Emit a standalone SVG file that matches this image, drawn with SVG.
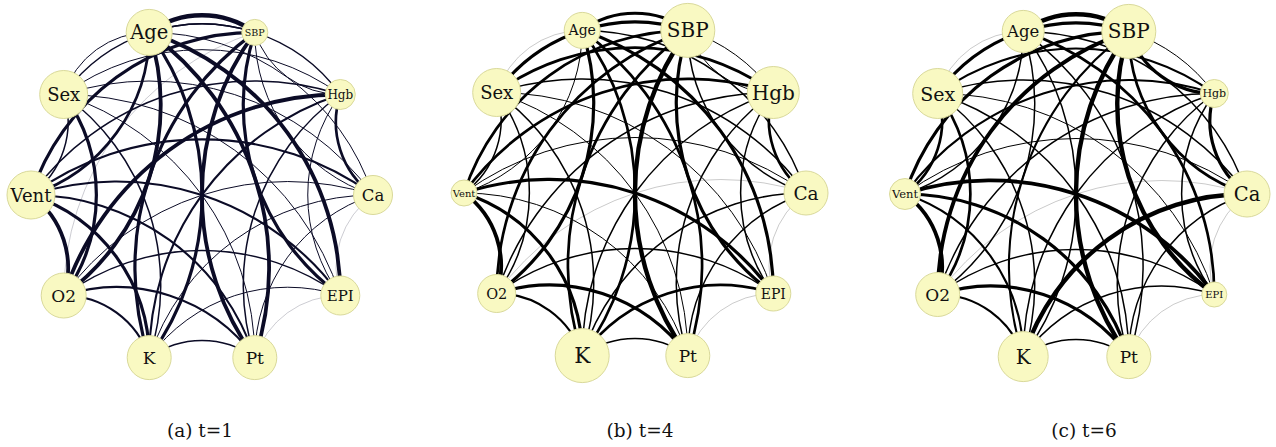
<svg xmlns="http://www.w3.org/2000/svg" width="1276" height="447" viewBox="0 0 1276 447">
<style>
.bg{fill:#ffffff}
.edges path{fill:none;stroke-linecap:round}
#pa .edges path{stroke:#0b0b26}
#pb .edges path,#pc .edges path{stroke:#000}
.a{stroke-width:0.6;stroke-opacity:0.35}
.b{stroke-width:1}
.c{stroke-width:1.5}
.d{stroke-width:2.1}
.e{stroke-width:2.7}
.f{stroke-width:3.2}
.g{stroke-width:3.8}
.h{stroke-width:4.4}
.node circle{fill:#f9f9c2;stroke:#d9d99a;stroke-width:1}
.node text{font-family:"DejaVu Serif","Liberation Serif",serif;fill:#111;text-anchor:middle;dominant-baseline:central}
.cap{font-family:"DejaVu Serif","Liberation Serif",serif;font-size:18.5px;fill:#111;text-anchor:middle}
</style>
<rect class="bg" x="0" y="0" width="1276" height="447"/>

<g id="pa" transform="translate(202,195)">
<g class="edges" id="pa-edges">
<path class="b" d="M-138.3,-100.5A89.8,89.8 0 0 1-52.8,-162.6"/>
<path class="e" d="M-52.8,-162.6A170.9,170.9 0 0 1-171,0"/>
<path class="g" d="M-52.8,-162.6A235.2,235.2 0 0 1-138.3,100.5"/>
<path class="f" d="M-52.8,-162.6A276.5,276.5 0 0 1-52.8,162.6"/>
<path class="g" d="M-52.8,-162.6A290.7,290.7 0 0 1 52.8,162.6"/>
<path class="g" d="M-52.8,-162.6A276.5,276.5 0 0 1 138.3,100.5"/>
<path class="b" d="M-52.8,-162.6A235.2,235.2 0 0 1 171,0"/>
<path class="c" d="M-52.8,-162.6A170.9,170.9 0 0 1 138.3,-100.5"/>
<path class="h" d="M-52.8,-162.6A89.8,89.8 0 0 1 52.8,-162.6"/>
<path class="c" d="M-138.3,-100.5A89.8,89.8 0 0 1-171,0"/>
<path class="f" d="M-138.3,-100.5A170.9,170.9 0 0 1-138.3,100.5"/>
<path class="c" d="M-138.3,-100.5A235.2,235.2 0 0 1-52.8,162.6"/>
<path class="b" d="M-138.3,-100.5A276.5,276.5 0 0 1 52.8,162.6"/>
<path class="b" d="M-138.3,-100.5A290.7,290.7 0 0 1 138.3,100.5"/>
<path class="b" d="M-138.3,-100.5A276.5,276.5 0 0 1 171,0"/>
<path class="b" d="M-138.3,-100.5A235.2,235.2 0 0 1 138.3,-100.5"/>
<path class="c" d="M-138.3,-100.5A170.9,170.9 0 0 1 52.8,-162.6"/>
<path class="g" d="M-171,0A89.8,89.8 0 0 1-138.3,100.5"/>
<path class="f" d="M-171,0A170.9,170.9 0 0 1-52.8,162.6"/>
<path class="d" d="M-171,0A235.2,235.2 0 0 1 52.8,162.6"/>
<path class="d" d="M-171,0A276.5,276.5 0 0 1 138.3,100.5"/>
<path class="d" d="M-171,0A290.7,290.7 0 0 1 171,0"/>
<path class="c" d="M-171,0A276.5,276.5 0 0 1 138.3,-100.5"/>
<path class="f" d="M-171,0A235.2,235.2 0 0 1 52.8,-162.6"/>
<path class="d" d="M-138.3,100.5A89.8,89.8 0 0 1-52.8,162.6"/>
<path class="d" d="M-138.3,100.5A170.9,170.9 0 0 1 52.8,162.6"/>
<path class="c" d="M-138.3,100.5A235.2,235.2 0 0 1 138.3,100.5"/>
<path class="b" d="M-138.3,100.5A276.5,276.5 0 0 1 171,0"/>
<path class="g" d="M-138.3,100.5A290.7,290.7 0 0 1 138.3,-100.5"/>
<path class="a" d="M-138.3,100.5A276.5,276.5 0 0 1 52.8,-162.6"/>
<path class="c" d="M-52.8,162.6A89.8,89.8 0 0 1 52.8,162.6"/>
<path class="b" d="M-52.8,162.6A170.9,170.9 0 0 1 138.3,100.5"/>
<path class="b" d="M-52.8,162.6A235.2,235.2 0 0 1 171,0"/>
<path class="d" d="M-52.8,162.6A276.5,276.5 0 0 1 138.3,-100.5"/>
<path class="f" d="M-52.8,162.6A290.7,290.7 0 0 1 52.8,-162.6"/>
<path class="a" d="M52.8,162.6A89.8,89.8 0 0 1 138.3,100.5"/>
<path class="b" d="M52.8,162.6A170.9,170.9 0 0 1 171,0"/>
<path class="c" d="M52.8,162.6A235.2,235.2 0 0 1 138.3,-100.5"/>
<path class="g" d="M52.8,162.6A276.5,276.5 0 0 1 52.8,-162.6"/>
<path class="a" d="M138.3,100.5A89.8,89.8 0 0 1 171,0"/>
<path class="b" d="M138.3,100.5A170.9,170.9 0 0 1 138.3,-100.5"/>
<path class="f" d="M138.3,100.5A235.2,235.2 0 0 1 52.8,-162.6"/>
<path class="e" d="M171,0A89.8,89.8 0 0 1 138.3,-100.5"/>
<path class="b" d="M171,0A170.9,170.9 0 0 1 52.8,-162.6"/>
<path class="b" d="M138.3,-100.5A89.8,89.8 0 0 1 52.8,-162.6"/>
</g>
<g class="node" id="pa-Age"><circle cx="-52.8" cy="-162.6" r="23"/><text x="-52.8" y="-162.6" font-size="19.5">Age</text></g>
<g class="node" id="pa-Sex"><circle cx="-138.3" cy="-100.5" r="24"/><text x="-138.3" y="-100.5" font-size="18">Sex</text></g>
<g class="node" id="pa-Vent"><circle cx="-171" cy="0" r="24"/><text x="-171" y="0" font-size="18">Vent</text></g>
<g class="node" id="pa-O2"><circle cx="-138.3" cy="100.5" r="22.5"/><text x="-138.3" y="100.5" font-size="17">O2</text></g>
<g class="node" id="pa-K"><circle cx="-52.8" cy="162.6" r="22"/><text x="-52.8" y="162.6" font-size="17">K</text></g>
<g class="node" id="pa-Pt"><circle cx="52.8" cy="162.6" r="22"/><text x="52.8" y="162.6" font-size="17">Pt</text></g>
<g class="node" id="pa-EPI"><circle cx="138.3" cy="100.5" r="19.5"/><text x="138.3" y="100.5" font-size="15">EPI</text></g>
<g class="node" id="pa-Ca"><circle cx="171" cy="0" r="19.5"/><text x="171" y="0" font-size="16.5">Ca</text></g>
<g class="node" id="pa-Hgb"><circle cx="138.3" cy="-100.5" r="15"/><text x="138.3" y="-100.5" font-size="12">Hgb</text></g>
<g class="node" id="pa-SBP"><circle cx="52.8" cy="-162.6" r="13"/><text x="52.8" y="-162.6" font-size="9.5">SBP</text></g>
</g>

<g id="pb" transform="translate(635,193)">
<g class="edges" id="pb-edges">
<path class="a" d="M-138.3,-100.5A89.8,89.8 0 0 1-52.8,-162.6"/>
<path class="b" d="M-52.8,-162.6A170.9,170.9 0 0 1-171,0"/>
<path class="f" d="M-52.8,-162.6A235.2,235.2 0 0 1-138.3,100.5"/>
<path class="e" d="M-52.8,-162.6A276.5,276.5 0 0 1-52.8,162.6"/>
<path class="e" d="M-52.8,-162.6A290.7,290.7 0 0 1 52.8,162.6"/>
<path class="f" d="M-52.8,-162.6A276.5,276.5 0 0 1 138.3,100.5"/>
<path class="c" d="M-52.8,-162.6A235.2,235.2 0 0 1 171,0"/>
<path class="b" d="M-52.8,-162.6A170.9,170.9 0 0 1 138.3,-100.5"/>
<path class="f" d="M-52.8,-162.6A89.8,89.8 0 0 1 52.8,-162.6"/>
<path class="c" d="M-138.3,-100.5A89.8,89.8 0 0 1-171,0"/>
<path class="c" d="M-138.3,-100.5A170.9,170.9 0 0 1-138.3,100.5"/>
<path class="c" d="M-138.3,-100.5A235.2,235.2 0 0 1-52.8,162.6"/>
<path class="b" d="M-138.3,-100.5A276.5,276.5 0 0 1 52.8,162.6"/>
<path class="b" d="M-138.3,-100.5A290.7,290.7 0 0 1 138.3,100.5"/>
<path class="c" d="M-138.3,-100.5A276.5,276.5 0 0 1 171,0"/>
<path class="e" d="M-138.3,-100.5A235.2,235.2 0 0 1 138.3,-100.5"/>
<path class="f" d="M-138.3,-100.5A170.9,170.9 0 0 1 52.8,-162.6"/>
<path class="g" d="M-171,0A89.8,89.8 0 0 1-138.3,100.5"/>
<path class="f" d="M-171,0A170.9,170.9 0 0 1-52.8,162.6"/>
<path class="b" d="M-171,0A235.2,235.2 0 0 1 52.8,162.6"/>
<path class="f" d="M-171,0A276.5,276.5 0 0 1 138.3,100.5"/>
<path class="b" d="M-171,0A290.7,290.7 0 0 1 171,0"/>
<path class="e" d="M-171,0A276.5,276.5 0 0 1 138.3,-100.5"/>
<path class="e" d="M-171,0A235.2,235.2 0 0 1 52.8,-162.6"/>
<path class="d" d="M-138.3,100.5A89.8,89.8 0 0 1-52.8,162.6"/>
<path class="f" d="M-138.3,100.5A170.9,170.9 0 0 1 52.8,162.6"/>
<path class="c" d="M-138.3,100.5A235.2,235.2 0 0 1 138.3,100.5"/>
<path class="a" d="M-138.3,100.5A276.5,276.5 0 0 1 171,0"/>
<path class="c" d="M-138.3,100.5A290.7,290.7 0 0 1 138.3,-100.5"/>
<path class="e" d="M-138.3,100.5A276.5,276.5 0 0 1 52.8,-162.6"/>
<path class="c" d="M-52.8,162.6A89.8,89.8 0 0 1 52.8,162.6"/>
<path class="e" d="M-52.8,162.6A170.9,170.9 0 0 1 138.3,100.5"/>
<path class="c" d="M-52.8,162.6A235.2,235.2 0 0 1 171,0"/>
<path class="c" d="M-52.8,162.6A276.5,276.5 0 0 1 138.3,-100.5"/>
<path class="e" d="M-52.8,162.6A290.7,290.7 0 0 1 52.8,-162.6"/>
<path class="a" d="M52.8,162.6A89.8,89.8 0 0 1 138.3,100.5"/>
<path class="c" d="M52.8,162.6A170.9,170.9 0 0 1 171,0"/>
<path class="c" d="M52.8,162.6A235.2,235.2 0 0 1 138.3,-100.5"/>
<path class="h" d="M52.8,162.6A276.5,276.5 0 0 1 52.8,-162.6"/>
<path class="a" d="M138.3,100.5A89.8,89.8 0 0 1 171,0"/>
<path class="c" d="M138.3,100.5A170.9,170.9 0 0 1 138.3,-100.5"/>
<path class="f" d="M138.3,100.5A235.2,235.2 0 0 1 52.8,-162.6"/>
<path class="e" d="M171,0A89.8,89.8 0 0 1 138.3,-100.5"/>
<path class="c" d="M171,0A170.9,170.9 0 0 1 52.8,-162.6"/>
<path class="b" d="M138.3,-100.5A89.8,89.8 0 0 1 52.8,-162.6"/>
</g>
<g class="node" id="pb-Age"><circle cx="-52.8" cy="-162.6" r="18"/><text x="-52.8" y="-162.6" font-size="14">Age</text></g>
<g class="node" id="pb-Sex"><circle cx="-138.3" cy="-100.5" r="24"/><text x="-138.3" y="-100.5" font-size="18">Sex</text></g>
<g class="node" id="pb-Vent"><circle cx="-171" cy="0" r="13"/><text x="-171" y="0" font-size="10">Vent</text></g>
<g class="node" id="pb-O2"><circle cx="-138.3" cy="100.5" r="19"/><text x="-138.3" y="100.5" font-size="14.5">O2</text></g>
<g class="node" id="pb-K"><circle cx="-52.8" cy="162.6" r="27"/><text x="-52.8" y="162.6" font-size="21.5">K</text></g>
<g class="node" id="pb-Pt"><circle cx="52.8" cy="162.6" r="22"/><text x="52.8" y="162.6" font-size="17">Pt</text></g>
<g class="node" id="pb-EPI"><circle cx="138.3" cy="100.5" r="17.5"/><text x="138.3" y="100.5" font-size="14">EPI</text></g>
<g class="node" id="pb-Ca"><circle cx="171" cy="0" r="22"/><text x="171" y="0" font-size="18.5">Ca</text></g>
<g class="node" id="pb-Hgb"><circle cx="138.3" cy="-100.5" r="26"/><text x="138.3" y="-100.5" font-size="20">Hgb</text></g>
<g class="node" id="pb-SBP"><circle cx="52.8" cy="-162.6" r="27"/><text x="52.8" y="-162.6" font-size="20">SBP</text></g>
</g>

<g id="pc" transform="translate(1076,194)">
<g class="edges" id="pc-edges">
<path class="a" d="M-138.3,-100.5A89.8,89.8 0 0 1-52.8,-162.6"/>
<path class="c" d="M-52.8,-162.6A170.9,170.9 0 0 1-171,0"/>
<path class="c" d="M-52.8,-162.6A235.2,235.2 0 0 1-138.3,100.5"/>
<path class="c" d="M-52.8,-162.6A276.5,276.5 0 0 1-52.8,162.6"/>
<path class="c" d="M-52.8,-162.6A290.7,290.7 0 0 1 52.8,162.6"/>
<path class="e" d="M-52.8,-162.6A276.5,276.5 0 0 1 138.3,100.5"/>
<path class="c" d="M-52.8,-162.6A235.2,235.2 0 0 1 171,0"/>
<path class="b" d="M-52.8,-162.6A170.9,170.9 0 0 1 138.3,-100.5"/>
<path class="h" d="M-52.8,-162.6A89.8,89.8 0 0 1 52.8,-162.6"/>
<path class="e" d="M-138.3,-100.5A89.8,89.8 0 0 1-171,0"/>
<path class="e" d="M-138.3,-100.5A170.9,170.9 0 0 1-138.3,100.5"/>
<path class="c" d="M-138.3,-100.5A235.2,235.2 0 0 1-52.8,162.6"/>
<path class="c" d="M-138.3,-100.5A276.5,276.5 0 0 1 52.8,162.6"/>
<path class="b" d="M-138.3,-100.5A290.7,290.7 0 0 1 138.3,100.5"/>
<path class="c" d="M-138.3,-100.5A276.5,276.5 0 0 1 171,0"/>
<path class="d" d="M-138.3,-100.5A235.2,235.2 0 0 1 138.3,-100.5"/>
<path class="f" d="M-138.3,-100.5A170.9,170.9 0 0 1 52.8,-162.6"/>
<path class="g" d="M-171,0A89.8,89.8 0 0 1-138.3,100.5"/>
<path class="d" d="M-171,0A170.9,170.9 0 0 1-52.8,162.6"/>
<path class="f" d="M-171,0A235.2,235.2 0 0 1 52.8,162.6"/>
<path class="g" d="M-171,0A276.5,276.5 0 0 1 138.3,100.5"/>
<path class="b" d="M-171,0A290.7,290.7 0 0 1 171,0"/>
<path class="d" d="M-171,0A276.5,276.5 0 0 1 138.3,-100.5"/>
<path class="f" d="M-171,0A235.2,235.2 0 0 1 52.8,-162.6"/>
<path class="d" d="M-138.3,100.5A89.8,89.8 0 0 1-52.8,162.6"/>
<path class="f" d="M-138.3,100.5A170.9,170.9 0 0 1 52.8,162.6"/>
<path class="c" d="M-138.3,100.5A235.2,235.2 0 0 1 138.3,100.5"/>
<path class="a" d="M-138.3,100.5A276.5,276.5 0 0 1 171,0"/>
<path class="c" d="M-138.3,100.5A290.7,290.7 0 0 1 138.3,-100.5"/>
<path class="g" d="M-138.3,100.5A276.5,276.5 0 0 1 52.8,-162.6"/>
<path class="c" d="M-52.8,162.6A89.8,89.8 0 0 1 52.8,162.6"/>
<path class="c" d="M-52.8,162.6A170.9,170.9 0 0 1 138.3,100.5"/>
<path class="h" d="M-52.8,162.6A235.2,235.2 0 0 1 171,0"/>
<path class="c" d="M-52.8,162.6A276.5,276.5 0 0 1 138.3,-100.5"/>
<path class="d" d="M-52.8,162.6A290.7,290.7 0 0 1 52.8,-162.6"/>
<path class="a" d="M52.8,162.6A89.8,89.8 0 0 1 138.3,100.5"/>
<path class="c" d="M52.8,162.6A170.9,170.9 0 0 1 171,0"/>
<path class="c" d="M52.8,162.6A235.2,235.2 0 0 1 138.3,-100.5"/>
<path class="h" d="M52.8,162.6A276.5,276.5 0 0 1 52.8,-162.6"/>
<path class="a" d="M138.3,100.5A89.8,89.8 0 0 1 171,0"/>
<path class="c" d="M138.3,100.5A170.9,170.9 0 0 1 138.3,-100.5"/>
<path class="h" d="M138.3,100.5A235.2,235.2 0 0 1 52.8,-162.6"/>
<path class="f" d="M171,0A89.8,89.8 0 0 1 138.3,-100.5"/>
<path class="e" d="M171,0A170.9,170.9 0 0 1 52.8,-162.6"/>
<path class="f" d="M138.3,-100.5A89.8,89.8 0 0 1 52.8,-162.6"/>
</g>
<g class="node" id="pc-Age"><circle cx="-52.8" cy="-162.6" r="21"/><text x="-52.8" y="-162.6" font-size="16.5">Age</text></g>
<g class="node" id="pc-Sex"><circle cx="-138.3" cy="-100.5" r="25"/><text x="-138.3" y="-100.5" font-size="19">Sex</text></g>
<g class="node" id="pc-Vent"><circle cx="-171" cy="0" r="15.5"/><text x="-171" y="0" font-size="11.5">Vent</text></g>
<g class="node" id="pc-O2"><circle cx="-138.3" cy="100.5" r="22"/><text x="-138.3" y="100.5" font-size="17">O2</text></g>
<g class="node" id="pc-K"><circle cx="-52.8" cy="162.6" r="25"/><text x="-52.8" y="162.6" font-size="20">K</text></g>
<g class="node" id="pc-Pt"><circle cx="52.8" cy="162.6" r="22"/><text x="52.8" y="162.6" font-size="17">Pt</text></g>
<g class="node" id="pc-EPI"><circle cx="138.3" cy="100.5" r="12.5"/><text x="138.3" y="100.5" font-size="10">EPI</text></g>
<g class="node" id="pc-Ca"><circle cx="171" cy="0" r="23"/><text x="171" y="0" font-size="19.5">Ca</text></g>
<g class="node" id="pc-Hgb"><circle cx="138.3" cy="-100.5" r="14"/><text x="138.3" y="-100.5" font-size="11">Hgb</text></g>
<g class="node" id="pc-SBP"><circle cx="52.8" cy="-162.6" r="27"/><text x="52.8" y="-162.6" font-size="20">SBP</text></g>
</g>

<g id="captions">
<text class="cap" x="200" y="437">(a) t=1</text>
<text class="cap" x="640" y="437">(b) t=4</text>
<text class="cap" x="1084" y="437">(c) t=6</text>
</g>
</svg>
